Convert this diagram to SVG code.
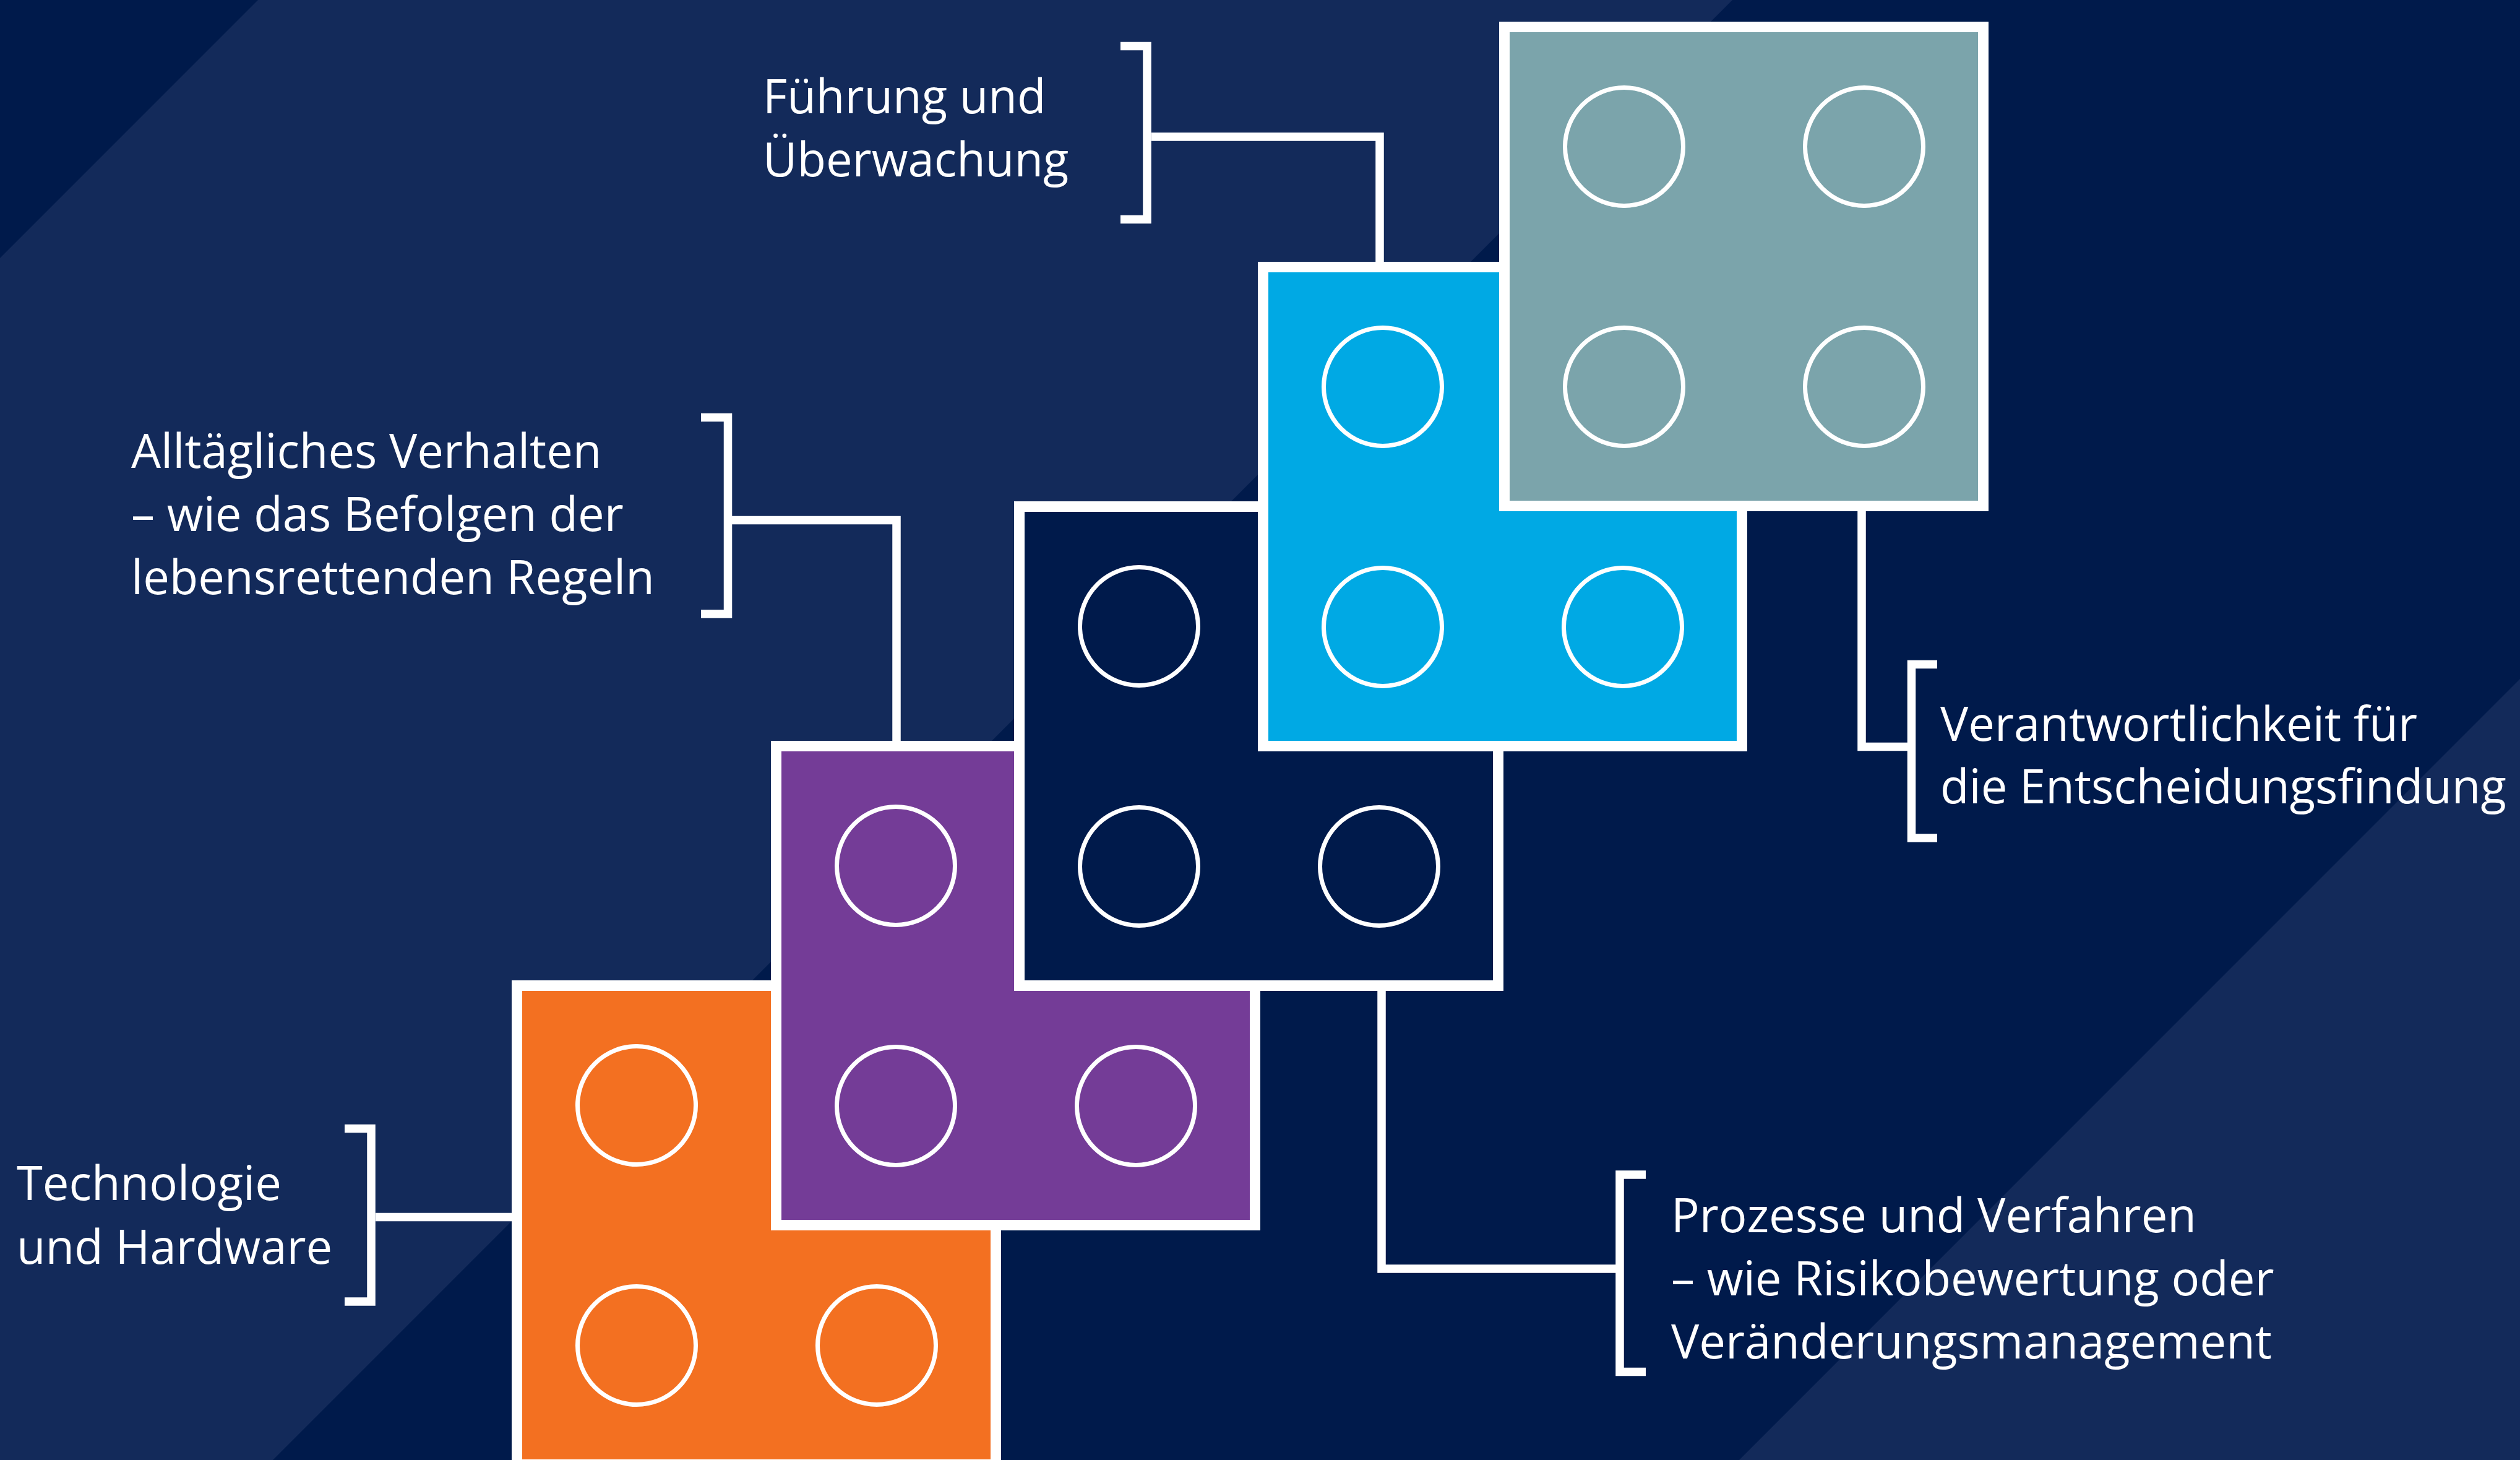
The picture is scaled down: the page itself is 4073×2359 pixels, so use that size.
<svg xmlns="http://www.w3.org/2000/svg" width="4073" height="2359" viewBox="0 0 4073 2359">
<style>
.blk{stroke:#ffffff;stroke-width:17}
.stud{fill:none;stroke:#ffffff;stroke-width:7}
.ln{fill:none;stroke:#ffffff;stroke-width:13.5;stroke-linejoin:miter;stroke-linecap:butt}
.lbl{font-family:"Open Sans","Noto Sans","DejaVu Sans",sans-serif;font-size:76px;fill:#ffffff}
</style>
<g id="background">
<rect x="0" y="0" width="4073" height="2359" fill="#132A5A"/>
<polygon points="0,0 417,0 0,417" fill="#001A4B"/>
<polygon points="2800,0 4073,0 4073,1097 2811,2359 441,2359" fill="#001A4B"/>
</g>
<g id="connectors">
<path class="ln" d="M1811,74.5 H1854 V354.5 H1811"/>
<path class="ln" d="M1861,221 H2230 V431"/>
<path class="ln" d="M1133,674.5 H1176.5 V992 H1133"/>
<path class="ln" d="M1183,840.5 H1449 V1205"/>
<path class="ln" d="M557,1823.5 H600 V2103 H557"/>
<path class="ln" d="M607,1966.5 H835"/>
<path class="ln" d="M3009,820 V1206.5 H3089.5"/>
<path class="ln" d="M3131,1073.5 H3089.5 V1354 H3131"/>
<path class="ln" d="M2233,1600 V2050 H2618"/>
<path class="ln" d="M2660,1898 H2618 V2216.5 H2660"/>
</g>
<g id="block-orange">
<rect class="blk" x="835.5" y="1592.5" width="774" height="774" fill="#F37021"/>
<circle class="stud" cx="1029" cy="1786" r="95.5"/>
<circle class="stud" cx="1417" cy="1786" r="95.5"/>
<circle class="stud" cx="1029" cy="2174" r="95.5"/>
<circle class="stud" cx="1417" cy="2174" r="95.5"/>
</g>
<g id="block-purple">
<rect class="blk" x="1254.5" y="1205.5" width="774" height="774" fill="#743C97"/>
<circle class="stud" cx="1448" cy="1399" r="95.5"/>
<circle class="stud" cx="1836" cy="1399" r="95.5"/>
<circle class="stud" cx="1448" cy="1787" r="95.5"/>
<circle class="stud" cx="1836" cy="1787" r="95.5"/>
</g>
<g id="block-navy">
<rect class="blk" x="1647.5" y="818.5" width="774" height="774" fill="#001A4B"/>
<circle class="stud" cx="1841" cy="1012" r="95.5"/>
<circle class="stud" cx="2229" cy="1012" r="95.5"/>
<circle class="stud" cx="1841" cy="1400" r="95.5"/>
<circle class="stud" cx="2229" cy="1400" r="95.5"/>
</g>
<g id="block-blue">
<rect class="blk" x="2041.5" y="431.5" width="774" height="774" fill="#00A9E4"/>
<circle class="stud" cx="2235" cy="625" r="95.5"/>
<circle class="stud" cx="2623" cy="625" r="95.5"/>
<circle class="stud" cx="2235" cy="1013" r="95.5"/>
<circle class="stud" cx="2623" cy="1013" r="95.5"/>
</g>
<g id="block-gray">
<rect class="blk" x="2431.5" y="43.5" width="774" height="774" fill="#7BA4AB"/>
<circle class="stud" cx="2625" cy="237" r="95.5"/>
<circle class="stud" cx="3013" cy="237" r="95.5"/>
<circle class="stud" cx="2625" cy="625" r="95.5"/>
<circle class="stud" cx="3013" cy="625" r="95.5"/>
</g>
<g id="label-fuehrung">
<text class="lbl" x="1233" y="183">Führung und</text>
<text class="lbl" x="1233" y="285">Überwachung</text>
</g>
<g id="label-alltag">
<text class="lbl" x="212" y="756">Alltägliches Verhalten</text>
<text class="lbl" x="212" y="858">– wie das Befolgen der</text>
<text class="lbl" x="212" y="960">lebensrettenden Regeln</text>
</g>
<g id="label-technologie">
<text class="lbl" x="27" y="1939">Technologie</text>
<text class="lbl" x="27" y="2042">und Hardware</text>
</g>
<g id="label-verantwortung">
<text class="lbl" x="3136" y="1197">Verantwortlichkeit für</text>
<text class="lbl" x="3136" y="1298">die Entscheidungsfindung</text>
</g>
<g id="label-prozesse">
<text class="lbl" x="2701" y="1991">Prozesse und Verfahren</text>
<text class="lbl" x="2701" y="2093">– wie Risikobewertung oder</text>
<text class="lbl" x="2701" y="2195">Veränderungsmanagement</text>
</g>
</svg>
